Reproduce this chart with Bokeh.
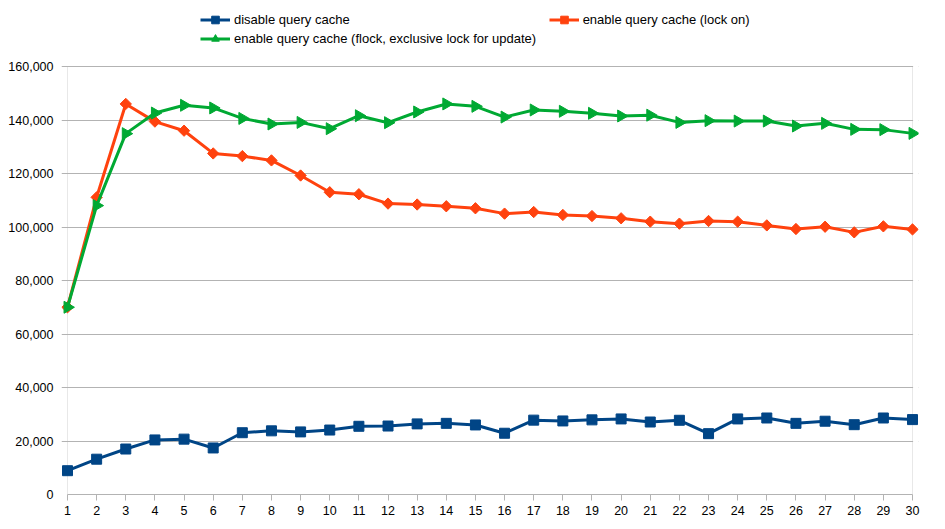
import math
from bokeh.plotting import figure
from bokeh.models import (Range1d, SingleIntervalTicker, NumeralTickFormatter,
                          Legend, LegendItem, BoxAnnotation)
from bokeh.embed import file_html
from bokeh.resources import INLINE

# ---- data ----
runs = list(range(1, 31))
disable_cache = [8900, 13200, 17000, 20400, 20700, 17400, 23100, 23800, 23400, 24100,
                 25500, 25600, 26400, 26600, 26000, 22900, 27800, 27500, 27900, 28250,
                 27100, 27750, 22750, 28250, 28600, 26600, 27400, 26100, 28600, 28000]
lock_on = [70000, 111100, 146000, 139400, 136000, 127500, 126500, 124900, 119250, 113000,
           112250, 108750, 108400, 107750, 107000, 105000, 105600, 104500, 104100, 103250,
           102000, 101250, 102250, 102000, 100600, 99250, 100100, 98000, 100250, 99100]
flock = [70000, 108000, 134900, 142600, 145500, 144500, 140600, 138500, 139100, 136750,
         141600, 139000, 143000, 146000, 145100, 141100, 143750, 143250, 142500, 141500,
         141800, 139100, 139750, 139600, 139600, 137750, 138750, 136500, 136400, 135000]
labels = ["disable query cache", "enable query cache (lock on)",
          "enable query cache (flock, exclusive lock for update)"]
y_min, y_max, y_step = 0, 160000, 20000

BLUE = "#004586"
RED = "#ff420e"
GREEN = "#00a933"
GRID = "#b3b3b3"
FONT = "Liberation Sans"

# plot area in the reference: x 67..912, y 66..494 (px)
px_per_unit = 845 / 29
pad = 6 / px_per_unit
x0, x1 = runs[0], runs[-1]
y_top = y_max * 494 / 428   # frame reaches the top of the page so the legend fits inside it

p = figure(width=945, height=529, output_backend="svg", toolbar_location=None,
           x_range=Range1d(x0 - pad, x1 + pad), y_range=Range1d(y_min, y_top),
           min_border_left=61, min_border_right=27, min_border_top=0, min_border_bottom=35)
p.background_fill_color = "white"
p.border_fill_color = "white"
p.outline_line_color = None

p.ygrid.grid_line_color = GRID
p.ygrid.grid_line_width = 1
p.ygrid.bounds = (y_min, y_max)
p.xgrid.grid_line_color = None

# hide grid overhang right of the last run, then draw the plot-area border
cover = BoxAnnotation(left=x1 + 0.6 / px_per_unit, fill_color="white", fill_alpha=1,
                      line_color=None, level="underlay")
p.add_layout(cover)
border = BoxAnnotation(left=x0, right=x1, bottom=y_min, top=y_max, fill_alpha=0,
                       line_color=GRID, line_width=1, level="underlay")
p.add_layout(border)

p.xaxis.ticker = SingleIntervalTicker(interval=1)
p.xaxis.bounds = (x0, x1)
p.yaxis.ticker = SingleIntervalTicker(interval=y_step)
p.yaxis.bounds = (y_min, y_max)
p.yaxis.formatter = NumeralTickFormatter(format="0,0")
for ax in (p.xaxis, p.yaxis):
    ax.axis_line_color = GRID
    ax.major_tick_line_color = GRID
    ax.minor_tick_line_color = None
    ax.major_tick_in = 0
    ax.major_label_text_font = FONT
    ax.major_label_text_font_size = "12.5px"
    ax.major_label_text_color = "black"
p.xaxis.major_tick_out = 6
p.xaxis.major_label_standoff = 5
p.yaxis.axis_line_color = None
p.yaxis.major_tick_line_color = None
p.yaxis.major_tick_out = 0
p.yaxis.major_label_standoff = 4

l1 = p.line(runs, disable_cache, line_color=BLUE, line_width=3)
s1 = p.scatter(runs, disable_cache, marker="square", size=10, fill_color=BLUE, line_color=BLUE)
l2 = p.line(runs, lock_on, line_color=RED, line_width=3)
s2 = p.scatter(runs, lock_on, marker="square", angle=math.pi / 4, size=8,
               fill_color=RED, line_color=RED)
l3 = p.line(runs, flock, line_color=GREEN, line_width=3)
s3 = p.scatter(runs, flock, marker="triangle", angle=-math.pi / 2, size=12,
               fill_color=GREEN, line_color=GREEN)

common = dict(orientation="horizontal", padding=0, margin=0, label_standoff=4,
              glyph_width=30, glyph_height=19, label_height=19,
              label_text_font=FONT, label_text_font_size="13px",
              label_text_color="black",
              border_line_alpha=0, background_fill_alpha=0)
legend_row1 = Legend(items=[LegendItem(label=labels[0], renderers=[l1, s1]),
                            LegendItem(label=labels[1], renderers=[l2, s2])],
                     location=(139, 465), spacing=199, **common)
legend_row2 = Legend(items=[LegendItem(label=labels[2], renderers=[l3, s3])],
                     location=(139, 446), spacing=0, **common)
p.add_layout(legend_row1, "center")
p.add_layout(legend_row2, "center")

open("out.html", "w").write(file_html(p, INLINE))
